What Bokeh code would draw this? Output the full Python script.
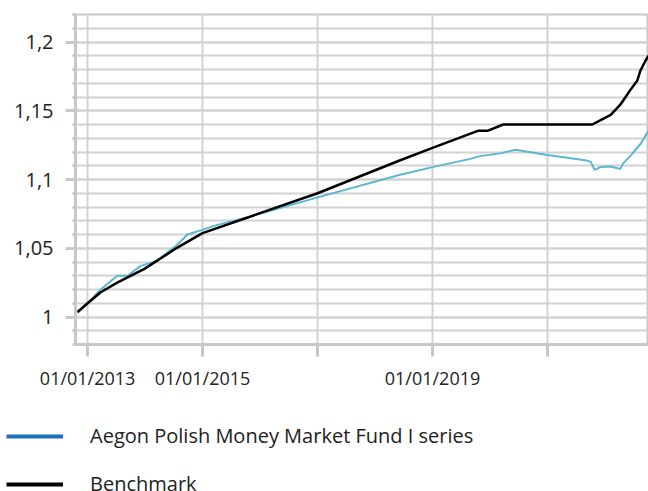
import datetime as dt
from bokeh.plotting import figure
from bokeh.models import (FixedTicker, Range1d, Legend, LegendItem, ColumnDataSource)
from bokeh.embed import file_html
from bokeh.resources import INLINE

# ---- data ----
fund_dates = ["2012-10-29", "2013-01-01", "2013-03-25", "2013-07-08", "2013-09-12",
              "2013-12-01", "2014-03-20", "2014-07-26", "2014-09-27", "2014-12-20",
              "2015-04-05", "2015-10-30", "2017-01-01", "2018-06-10", "2019-01-01",
              "2019-08-28", "2019-10-30", "2020-03-07", "2020-06-10", "2020-12-20",
              "2021-08-28", "2021-10-01", "2021-10-27", "2021-12-02", "2022-02-06",
              "2022-04-08", "2022-04-26", "2022-06-10", "2022-08-15", "2022-10-04"]
fund_values = [1.003, 1.010, 1.020, 1.030, 1.030,
               1.037, 1.041, 1.0527, 1.060, 1.063,
               1.067, 1.073, 1.087, 1.1034, 1.109,
               1.115, 1.117, 1.119, 1.1217, 1.118,
               1.114, 1.113, 1.107, 1.109, 1.1095,
               1.1077, 1.1117, 1.117, 1.126, 1.1355]

bench_dates = ["2012-10-29", "2013-01-01", "2013-03-25", "2013-07-08", "2013-12-28",
               "2014-07-25", "2015-01-01", "2016-01-01", "2017-01-01", "2018-06-10",
               "2019-01-01", "2019-10-20", "2019-12-20", "2020-03-25", "2021-10-12",
               "2021-12-01", "2022-02-06", "2022-04-08", "2022-06-10", "2022-07-25",
               "2022-08-13", "2022-09-13", "2022-10-04"]
bench_values = [1.0036, 1.010, 1.018, 1.025, 1.035,
                1.0505, 1.061, 1.0755, 1.090, 1.114,
                1.123, 1.1355, 1.1355, 1.140, 1.140,
                1.143, 1.147, 1.1544, 1.165, 1.172,
                1.179, 1.186, 1.190]

x_tick_dates = ["2013-01-01", "2015-01-01", "2017-01-01", "2019-01-01", "2021-01-01"]
x_tick_labels = ["01/01/2013", "01/01/2015", "", "01/01/2019", ""]
y_ticks = [1.0, 1.05, 1.1, 1.15, 1.2]
y_tick_labels = ["1", "1,05", "1,1", "1,15", "1,2"]
y_minor = [round(0.98 + 0.01 * i, 2) for i in range(25)]

series_names = ["Aegon Polish Money Market Fund I series", "Benchmark"]


def to_dt(s):
    return dt.datetime.strptime(s, "%Y-%m-%d")


def ms(s):
    return (to_dt(s) - dt.datetime(1970, 1, 1)).total_seconds() * 1000.0


GRID = "#d2d2d2"
AXIS = "#c8c8c8"
TEXT = "#222222"
FONT = "Open Sans"
W = 648

p = figure(width=W, height=392, x_axis_type="datetime",
           output_backend="svg", toolbar_location=None,
           x_range=Range1d(ms("2012-10-16"), ms("2022-10-04")),
           y_range=Range1d(0.98, 1.22),
           min_border_left=75, min_border_right=0, min_border_top=14,
           min_border_bottom=42)

p.outline_line_color = AXIS
p.outline_line_width = 2

# lines
fund_src = ColumnDataSource(dict(x=[to_dt(d) for d in fund_dates], y=fund_values))
bench_src = ColumnDataSource(dict(x=[to_dt(d) for d in bench_dates], y=bench_values))
p.line("x", "y", source=fund_src, line_color="#5bb6d2", line_width=2)
p.line("x", "y", source=bench_src, line_color="#000000", line_width=2.5)

# x axis
xt = [ms(d) for d in x_tick_dates]
p.xaxis.ticker = FixedTicker(ticks=xt, minor_ticks=[])
p.xaxis.major_label_overrides = {t: l for t, l in zip(xt, x_tick_labels)}
p.xaxis.axis_line_color = AXIS
p.xaxis.axis_line_width = 3
p.xaxis.major_tick_line_color = AXIS
p.xaxis.major_tick_line_width = 3
p.xaxis.major_tick_out = 12
p.xaxis.major_tick_in = 0
p.xaxis.minor_tick_line_color = None
p.xaxis.major_label_standoff = 9
p.xaxis.major_label_text_font = FONT
p.xaxis.major_label_text_font_size = "18px"
p.xaxis.major_label_text_color = TEXT

p.xgrid.ticker = FixedTicker(ticks=xt)
p.xgrid.grid_line_color = GRID
p.xgrid.grid_line_width = 2

# y axis
p.yaxis.ticker = FixedTicker(ticks=y_ticks, minor_ticks=y_minor)
p.yaxis.major_label_overrides = {t: l for t, l in zip(y_ticks, y_tick_labels)}
p.yaxis.axis_line_color = AXIS
p.yaxis.axis_line_width = 3
p.yaxis.major_tick_line_color = AXIS
p.yaxis.major_tick_line_width = 3
p.yaxis.major_tick_out = 10
p.yaxis.major_tick_in = 0
p.yaxis.minor_tick_line_color = AXIS
p.yaxis.minor_tick_line_width = 3
p.yaxis.minor_tick_out = 3
p.yaxis.minor_tick_in = 0
p.yaxis.major_label_standoff = 12
p.yaxis.major_label_text_font = FONT
p.yaxis.major_label_text_font_size = "20px"
p.yaxis.major_label_text_color = TEXT

p.ygrid.ticker = FixedTicker(ticks=y_ticks, minor_ticks=y_minor)
p.ygrid.grid_line_color = GRID
p.ygrid.grid_line_width = 2
p.ygrid.minor_grid_line_color = GRID
p.ygrid.minor_grid_line_width = 2

# legend figure below (separate root so its frame spans the full width)
lf = figure(width=W, height=99, output_backend="svg", toolbar_location=None,
            x_range=Range1d(0, 1), y_range=Range1d(0, 1),
            x_axis_location=None, y_axis_location=None,
            min_border=0, min_border_left=0, min_border_right=0,
            min_border_top=0, min_border_bottom=0)
lf.outline_line_color = None
lf.xgrid.visible = False
lf.ygrid.visible = False
r1 = lf.line(x=[5, 6], y=[5, 6], line_color="#1a72ba", line_width=4)
r2 = lf.line(x=[5, 6], y=[5, 6], line_color="#000000", line_width=4)
legend = Legend(items=[LegendItem(label=series_names[0], renderers=[r1]),
                       LegendItem(label=series_names[1], renderers=[r2])],
                location=(6, -6), orientation="vertical",
                glyph_width=57, glyph_height=16, label_height=16,
                label_standoff=27, spacing=21, padding=0, margin=0,
                border_line_color=None, background_fill_alpha=0,
                label_text_font=FONT, label_text_font_size="20px",
                label_text_color=TEXT)
lf.add_layout(legend, "center")

open("out.html", "w").write(file_html([p, lf], INLINE))
